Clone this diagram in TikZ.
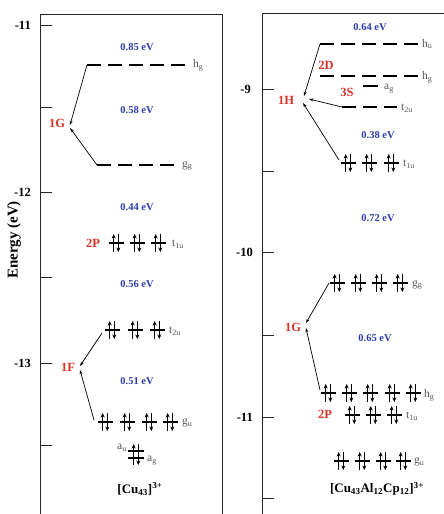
\documentclass[tikz,border=0pt]{standalone}
\usepackage{fontspec}
\setmainfont{Liberation Serif}
\usetikzlibrary{arrows.meta}
\definecolor{eblue}{RGB}{45,60,170}
\definecolor{ered}{RGB}{215,50,40}
\definecolor{lgray}{RGB}{85,85,85}
\tikzset{
  frame/.style={line width=0.9pt,black!85},
  tick/.style={line width=0.9pt,black!85},
  ticklab/.style={font=\fontsize{12.5}{13}\selectfont\bfseries,anchor=east,inner sep=0pt},
  gap/.style={font=\fontsize{10.5}{11}\selectfont\bfseries,text=eblue,inner sep=0pt},
  shell/.style={font=\fontsize{12.5}{13}\selectfont\bfseries,text=ered,inner sep=0pt},
  sym/.style={font=\fontsize{11.5}{12}\selectfont,text=lgray,anchor=west,inner sep=0pt},
  empty/.style={line width=2.8pt,dash pattern=on 14pt off 7pt},
  bar/.style={line width=2.6pt},
  spin/.style={line width=0.9pt,-{Stealth[length=4.5pt,width=4pt]}},
  link/.style={line width=0.7pt,-{Stealth[length=4.5pt,width=3pt]}},
  title/.style={font=\fontsize{13}{14}\selectfont\bfseries,inner sep=0pt}
}
\newcommand\epair[2]{%
  \draw[bar] (#1-7.5,#2) -- (#1+7.5,#2);
  \draw[spin] (#1-2.3,#2+9) -- (#1-2.3,#2-9);
  \draw[spin] (#1+2.3,#2-9) -- (#1+2.3,#2+9);
}
\begin{document}
\begin{tikzpicture}[x=1pt,y=-1pt]
\useasboundingbox (0,0) rectangle (444,514);
% ---------------- left panel frame ----------------
\draw[frame] (40,514) -- (40,14) -- (222,14) -- (222,514);
\foreach \y in {25,107,192,277,363,445} \draw[tick] (40,\y) -- (52,\y);
\node[ticklab] (l11) at (31,25) {-11};
\node[ticklab] (l12) at (31,192) {-12};
\node[ticklab] (l13) at (31,363) {-13};
\node[rotate=90,font=\fontsize{15}{15}\selectfont\bfseries] (elab) at (14,240) {Energy (eV)};
% levels
\draw[empty] (87,65) coordinate (lhgA) -- (187,65);
\node[sym] (lhg) at (193,65) {h\textsubscript{g}};
\draw[empty] (97,165) coordinate (lggA) -- (177,165);
\node[sym] (lgg) at (182,166) {g\textsubscript{g}};
\foreach \x in {116,137,158} \epair{\x}{243};
\node[sym] (lt1u) at (172,244) {t\textsubscript{1u}};
\foreach \x in {112,135,157} \epair{\x}{330};
\node[sym] (lt2u) at (169,331) {t\textsubscript{2u}};
\coordinate (lt2uA) at (102,333);
\foreach \x in {105,127,149,170} \epair{\x}{422};
\node[sym] (lgu) at (182,423) {g\textsubscript{u}};
\coordinate (lguA) at (94,420);
% a_u / a_g
\draw[bar,line width=2pt] (128,451) -- (144,451);
\draw[bar,line width=2pt] (128,458) -- (144,458);
\draw[spin] (133.7,465) -- (133.7,444);
\draw[spin] (138.3,444) -- (138.3,465);
\node[sym,anchor=east] (lau) at (127,448) {a\textsubscript{u}};
\node[sym] (lag) at (147,461) {a\textsubscript{g}};
% labels
\node[gap] (g1) at (137,47) {0.85 eV};
\node[gap] (g2) at (137,110) {0.58 eV};
\node[gap] (g3) at (137,207) {0.44 eV};
\node[gap] (g4) at (137,284) {0.56 eV};
\node[gap] (g5) at (137,381) {0.51 eV};
\node[shell] (l1G) at (57,123) {1G};
\node[shell] (l2P) at (93,243) {2P};
\node[shell] (l1F) at (68,367) {1F};
\draw[link] (lhgA) -- (70,125);
\draw[link] (lggA) -- (70,128);
\draw[link] (lt2uA) -- (80,366);
\draw[link] (lguA) -- (80,370);
\node[title] (t1) at (140,489) {[Cu\textsubscript{43}]\textsuperscript{3+}};
% ---------------- right panel frame ----------------
\draw[frame] (262,514) -- (262,13) -- (444,13);
\foreach \y in {89,171,252,335,417,498} \draw[tick] (262,\y) -- (274,\y);
\node[ticklab] (r9) at (251,89) {-9};
\node[ticklab] (r10) at (253,252) {-10};
\node[ticklab] (r11) at (253,417) {-11};
% levels
\draw[empty] (320,44) coordinate (rhuA) -- (418,44);
\node[sym] (rhu) at (422,44) {h\textsubscript{u}};
\draw[empty] (320,76) -- (418,76);
\node[sym] (rhg) at (422,77) {h\textsubscript{g}};
\draw[line width=2.8pt] (363,86) -- (378,86);
\node[sym] (rag) at (384,89) {a\textsubscript{g}};
\draw[empty] (342,107) coordinate (rt2uA) -- (397,107);
\node[sym] (rt2u) at (401,108) {t\textsubscript{2u}};
\foreach \x in {348,369,391} \epair{\x}{163};
\node[sym] (rt1u) at (403,164) {t\textsubscript{1u}};
\coordinate (rt1uA) at (339,160);
\foreach \x in {337,358,379,400} \epair{\x}{283};
\node[sym] (rgg) at (412,285) {g\textsubscript{g}};
\coordinate (rggA) at (329,283);
\foreach \x in {328,349,370,392,413} \epair{\x}{393};
\node[sym] (rhg2) at (424,395) {h\textsubscript{g}};
\coordinate (rhgA) at (320,390);
\foreach \x in {352,373,394} \epair{\x}{415};
\node[sym] (rt1u2) at (406,416) {t\textsubscript{1u}};
\foreach \x in {341,362,383,403} \epair{\x}{461};
\node[sym] (rgu) at (414,462) {g\textsubscript{u}};
% labels
\node[gap] (h1) at (370,27) {0.64 eV};
\node[gap] (h2) at (378,135) {0.38 eV};
\node[gap] (h3) at (378,218) {0.72 eV};
\node[gap] (h4) at (375,338) {0.65 eV};
\node[shell] (r2D) at (326,65) {2D};
\node[shell] (r3S) at (347,92) {3S};
\node[shell] (r1H) at (286,100) {1H};
\node[shell] (r1G) at (293,327) {1G};
\node[shell] (r2P) at (325,414) {2P};
\draw[link] (rhuA) -- (304,96);
\draw[link] (rt2uA) -- (309,99);
\draw[link] (rt1uA) -- (303,103);
\draw[link] (rggA) -- (306,323);
\draw[link] (rhgA) -- (306,328);
\node[title] (t2) at (377,489) {[Cu\textsubscript{43}Al\textsubscript{12}Cp\textsubscript{12}]\textsuperscript{3+}};
\end{tikzpicture}
\end{document}
